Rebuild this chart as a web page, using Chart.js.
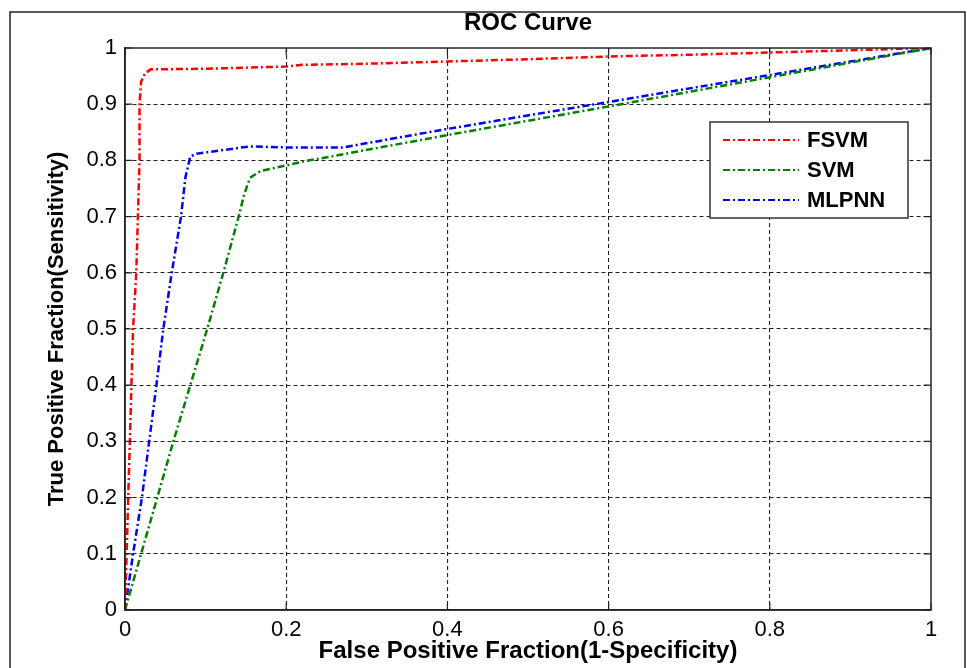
<!DOCTYPE html>
<html lang="en">
<head>
    <meta charset="UTF-8">
    <title>ROC Curve</title>
    <script src="https://cdn.jsdelivr.net/npm/chart.js"></script>
    <style>
        html, body { margin: 0; padding: 0; background: #fff; }
        #wrap { width: 967px; height: 668px; }
    </style>
</head>
<body>
    <div id="wrap"><canvas id="rocChart" width="967" height="668"></canvas></div>

    <script>
        // ROC data
        const seriesNames = ['FSVM', 'SVM', 'MLPNN'];
        const seriesColors = ['#ff0000', '#008000', '#0000ff'];

        const fsvmFpr = [0, 0.002, 0.004, 0.006, 0.009, 0.01, 0.014, 0.016, 0.018, 0.018, 0.02, 0.025, 0.032, 0.1, 0.2, 0.22, 0.3, 0.4, 0.5, 0.6, 0.7, 0.8, 0.9, 1];
        const fsvmTpr = [0, 0.1, 0.2, 0.3, 0.45, 0.5, 0.6, 0.7, 0.8, 0.9, 0.94, 0.955, 0.962, 0.963, 0.967, 0.97, 0.972, 0.976, 0.98, 0.985, 0.988, 0.992, 0.996, 1];

        const svmFpr = [0, 0.02, 0.04, 0.06, 0.081, 0.102, 0.122, 0.141, 0.148, 0.155, 0.168, 0.2, 0.221, 0.267, 0.4, 0.6, 0.8, 1];
        const svmTpr = [0, 0.1, 0.2, 0.3, 0.4, 0.5, 0.6, 0.7, 0.74, 0.769, 0.781, 0.791, 0.798, 0.81, 0.845, 0.896, 0.948, 1];

        const mlpFpr = [0, 0.01, 0.021, 0.03, 0.039, 0.0475, 0.058, 0.0695, 0.075, 0.081, 0.089, 0.12, 0.155, 0.2, 0.27, 0.4, 0.6, 0.8, 1];
        const mlpTpr = [0, 0.1, 0.2, 0.3, 0.4, 0.5, 0.6, 0.7, 0.77, 0.807, 0.812, 0.818, 0.825, 0.823, 0.823, 0.856, 0.904, 0.952, 1];

        const xTicks = [0, 0.2, 0.4, 0.6, 0.8, 1];
        const yTicks = [0, 0.1, 0.2, 0.3, 0.4, 0.5, 0.6, 0.7, 0.8, 0.9, 1];

        const FONT = '"Liberation Sans", Arial, Helvetica, sans-serif';
        const DASHDOT = [7, 3, 2, 3];

        const toPoints = (xs, ys) => xs.map((v, i) => ({ x: v, y: ys[i] }));
        const allX = [fsvmFpr, svmFpr, mlpFpr];
        const allY = [fsvmTpr, svmTpr, mlpTpr];

        // grid line colour: hide the ones sitting on the box edges
        const gridColor = ctx => (ctx.tick && (ctx.tick.value === 0 || ctx.tick.value === 1)) ? 'rgba(0,0,0,0)' : '#222';

        // title, box, inward ticks, legend and outer frame
        const decor = {
            id: 'decor',
            beforeDraw(chart) {
                const ctx = chart.ctx;
                ctx.save();
                ctx.fillStyle = '#fff';
                ctx.fillRect(0, 0, chart.width, chart.height);
                ctx.restore();
            },
            afterDraw(chart) {
                const { ctx, chartArea: a, scales: { x, y } } = chart;
                ctx.save();

                // outer frame
                ctx.strokeStyle = '#222';
                ctx.lineWidth = 1.5;
                ctx.strokeRect(10, 12, 955, 700);

                // axes box
                ctx.strokeStyle = '#222';
                ctx.lineWidth = 1.5;
                ctx.strokeRect(a.left, a.top, a.right - a.left, a.bottom - a.top);

                // inward tick marks
                ctx.lineWidth = 1.2;
                ctx.beginPath();
                x.ticks.forEach(t => {
                    const px = x.getPixelForValue(t.value);
                    ctx.moveTo(px, a.bottom); ctx.lineTo(px, a.bottom - 7);
                    ctx.moveTo(px, a.top); ctx.lineTo(px, a.top + 7);
                });
                y.ticks.forEach(t => {
                    const py = y.getPixelForValue(t.value);
                    ctx.moveTo(a.left, py); ctx.lineTo(a.left + 7, py);
                    ctx.moveTo(a.right, py); ctx.lineTo(a.right - 7, py);
                });
                ctx.stroke();

                // title
                ctx.fillStyle = '#000';
                ctx.font = 'bold 24px ' + FONT;
                ctx.textAlign = 'center';
                ctx.textBaseline = 'middle';
                ctx.fillText('ROC Curve', (a.left + a.right) / 2, 23);

                // legend
                const lx = 710, ly = 122, lw = 198, lh = 96;
                ctx.fillStyle = '#fff';
                ctx.fillRect(lx, ly, lw, lh);
                ctx.strokeStyle = '#333';
                ctx.lineWidth = 1.5;
                ctx.strokeRect(lx, ly, lw, lh);
                chart.data.datasets.forEach((ds, i) => {
                    const rowY = ly + 18 + i * 30;
                    ctx.strokeStyle = ds.borderColor;
                    ctx.lineWidth = 2.2;
                    ctx.setLineDash(DASHDOT);
                    ctx.beginPath();
                    ctx.moveTo(lx + 13, rowY);
                    ctx.lineTo(lx + 89, rowY);
                    ctx.stroke();
                    ctx.setLineDash([]);
                    ctx.fillStyle = '#000';
                    ctx.font = 'bold 22px ' + FONT;
                    ctx.textAlign = 'left';
                    ctx.textBaseline = 'middle';
                    ctx.fillText(ds.label, lx + 97, rowY + 1);
                });

                ctx.restore();
            }
        };

        const ctx = document.getElementById('rocChart').getContext('2d');
        const rocChart = new Chart(ctx, {
            type: 'scatter',
            data: {
                datasets: seriesNames.map((name, i) => ({
                    label: name,
                    data: toPoints(allX[i], allY[i]),
                    showLine: true,
                    borderColor: seriesColors[i],
                    backgroundColor: seriesColors[i],
                    borderWidth: 2.5,
                    borderDash: DASHDOT,
                    pointRadius: 0,
                    pointHoverRadius: 0,
                    tension: 0,
                    fill: false
                }))
            },
            options: {
                responsive: false,
                animation: false,
                events: [],
                layout: { padding: { top: 48, right: 36, bottom: 0, left: 0 } },
                plugins: {
                    legend: { display: false },
                    title: { display: false },
                    tooltip: { enabled: false }
                },
                scales: {
                    x: {
                        type: 'linear',
                        min: 0,
                        max: 1,
                        afterBuildTicks: s => { s.ticks = xTicks.map(v => ({ value: v })); },
                        afterFit: s => { s.height = 58; },
                        ticks: {
                            padding: 7,
                            color: '#000',
                            font: { family: FONT, size: 22 },
                            callback: v => String(v)
                        },
                        grid: { color: gridColor, lineWidth: 1.1, drawTicks: false },
                        border: { display: true, color: '#222', width: 1.5, dash: [4, 3] },
                        title: {
                            display: true,
                            text: 'False Positive Fraction(1-Specificity)',
                            color: '#000',
                            font: { family: FONT, size: 24, weight: 'bold' },
                            padding: { top: 0, bottom: 2 }
                        }
                    },
                    y: {
                        type: 'linear',
                        min: 0,
                        max: 1,
                        afterBuildTicks: s => { s.ticks = yTicks.map(v => ({ value: v })); },
                        afterFit: s => { s.width = 125; },
                        ticks: {
                            padding: 8,
                            color: '#000',
                            font: { family: FONT, size: 22 },
                            callback: v => String(v)
                        },
                        grid: { color: gridColor, lineWidth: 1.1, drawTicks: false },
                        border: { display: true, color: '#222', width: 1.5, dash: [4, 3] },
                        title: {
                            display: true,
                            text: 'True Positive Fraction(Sensitivity)',
                            color: '#000',
                            font: { family: FONT, size: 22, weight: 'bold' },
                            padding: { top: 44, bottom: 0 }
                        }
                    }
                }
            },
            plugins: [decor]
        });
    </script>
</body>
</html>
